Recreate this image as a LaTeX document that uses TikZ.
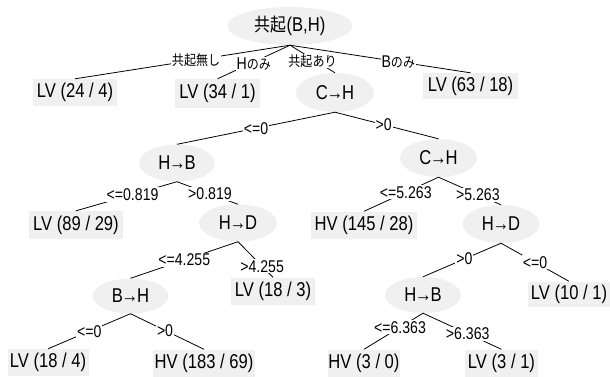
\documentclass[tikz,border=0pt]{standalone}
\usepackage{fontspec}
\setmainfont[FakeStretch=0.83]{Liberation Sans}
\newfontfamily\jpfont[FakeStretch=0.86]{Noto Sans CJK JP}
\usetikzlibrary{shapes.geometric}
\definecolor{nodegray}{HTML}{F0F0F0}
\newcommand\jtxt[1]{{\jpfont\fontsize{14}{15}\selectfont #1}}
\newcommand\toarr{\kern-1.2pt→\kern-1.2pt}
\begin{document}
\begin{tikzpicture}[x=1pt,y=-1pt,
  font=\fontsize{20}{22}\selectfont,
  ell/.style={ellipse, fill=nodegray, inner sep=0pt, minimum width=77pt, minimum height=37pt},
  leaf/.style={rectangle, fill=nodegray, inner sep=0pt, minimum height=27pt},
  lbl/.style={fill=white, inner sep=1pt, font=\fontsize{17}{18}\selectfont},
  edge/.style={draw=black, line width=0.8pt}]
\useasboundingbox (0,0) rectangle (610,376);
% nodes
\node[ell, minimum width=125pt, minimum height=38pt] (root) at (290,26) {{\jpfont\fontsize{18.5}{20}\selectfont 共起}(B,H)};
\node[leaf, minimum width=84pt] (n1) at (75,92.5) {LV (24 / 4)};
\node[leaf, minimum width=85pt, minimum height=29pt] (n2) at (217.5,93.5) {LV (34 / 1)};
\node[ell, minimum width=78pt, minimum height=39pt] (ch1) at (335,92.5) {C\toarr H};
\node[leaf, minimum width=95pt, minimum height=26pt] (n3) at (470.5,86) {LV (63 / 18)};
\node[ell, minimum width=76pt] (hb1) at (177,163) {H\toarr B};
\node[ell, minimum height=38pt] (ch2) at (438.5,158) {C\toarr H};
\node[leaf, minimum width=94pt, minimum height=28pt] (n4) at (76,225) {LV (89 / 29)};
\node[ell, minimum width=78pt] (hd1) at (238,223) {H\toarr D};
\node[leaf, minimum width=106pt] (n5) at (364,225) {HV (145 / 28)};
\node[ell, minimum height=38pt] (hd2) at (501,224) {H\toarr D};
\node[ell, minimum width=76pt, minimum height=35pt] (bh) at (130.5,296) {B\toarr H};
\node[leaf, minimum width=84pt] (n6) at (273,291) {LV (18 / 3)};
\node[ell, minimum width=76pt, minimum height=36pt] (hb2) at (423,295) {H\toarr B};
\node[leaf, minimum width=82pt, minimum height=25pt] (n7) at (569,294) {LV (10 / 1)};
\node[leaf, minimum width=81pt] (n8) at (48,362.5) {LV (18 / 4)};
\node[leaf, minimum width=102pt] (n9) at (204,363) {HV (183 / 69)};
\node[leaf, minimum width=72pt] (n10) at (364,363) {HV (3 / 0)};
\node[leaf, minimum width=73pt] (n11) at (501.5,363) {LV (3 / 1)};
% edges
\draw[edge] (root.south) -- node[lbl, pos=0.437] (l1) {\jtxt{共起無し}} (n1.north);
\draw[edge] (root.south) -- node[lbl, pos=0.5, yshift=-2pt] (l2) {H\jtxt{のみ}} (n2.north);
\draw[edge] (root.south) -- node[lbl, pos=0.5, yshift=-2pt] (l3) {\jtxt{共起あり}} (ch1.north);
\draw[edge] (root.south) -- node[lbl, pos=0.6] (l4) {B\jtxt{のみ}} (n3.north);
\draw[edge] (ch1.south) -- node[lbl, pos=0.5] (l5) {<=0} (hb1.north);
\draw[edge] (ch1.south) -- node[lbl, pos=0.47] (l6) {>0} (ch2.north);
\draw[edge] (hb1.south) -- node[lbl, pos=0.44] (l7) {<=0.819} (n4.north);
\draw[edge] (hb1.south) -- node[lbl, pos=0.54] (l8) {>0.819} (hd1.north);
\draw[edge] (ch2.south) -- node[lbl, pos=0.44] (l9) {<=5.263} (n5.north);
\draw[edge] (ch2.south) -- node[lbl, pos=0.63] (l10) {>5.263} (hd2.north);
\draw[edge] (hd1.south) -- node[lbl, pos=0.5] (l11) {<=4.255} (bh.north);
\draw[edge] (hd1.south) -- node[lbl, pos=0.69] (l12) {>4.255} (n6.north);
\draw[edge] (hd2.south) -- node[lbl, pos=0.47] (l13) {>0} (hb2.north);
\draw[edge] (hd2.south) -- node[lbl, pos=0.5] (l14) {<=0} (n7.north);
\draw[edge] (bh.south) -- node[lbl, pos=0.5] (l15) {<=0} (n8.north);
\draw[edge] (bh.south) -- node[lbl, pos=0.47] (l16) {>0} (n9.north);
\draw[edge] (hb2.south) -- node[lbl, pos=0.39] (l17) {<=6.363} (n10.north);
\draw[edge] (hb2.south) -- node[lbl, pos=0.57] (l18) {>6.363} (n11.north);
\end{tikzpicture}
\end{document}
